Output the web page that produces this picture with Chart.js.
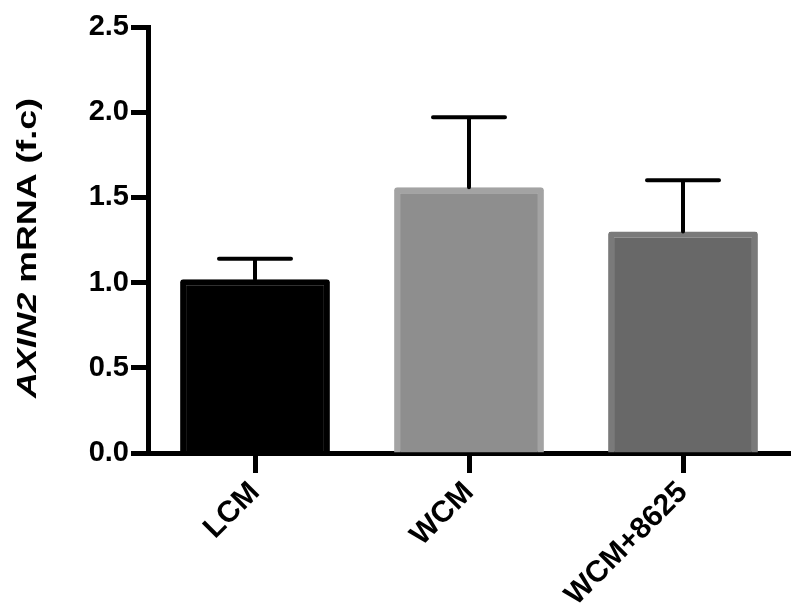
<!DOCTYPE html>
<html>
<head>
<meta charset="utf-8">
<script src="https://cdn.jsdelivr.net/npm/chart.js@4.4.1/dist/chart.umd.min.js"></script>
<style>
  html, body { margin: 0; padding: 0; background: #fff; }
  #wrap { width: 800px; height: 614px; }
</style>
</head>
<body>
<div id="wrap"><canvas id="axinChart" width="800" height="614"></canvas></div>
<script>
// Values (fold change, mean + upper SEM)
const groups = ['LCM', 'WCM', 'WCM+8625'];
const means = [1.02, 1.56, 1.30];
const errors = [0.12, 0.41, 0.30];
const yTicks = [0, 0.5, 1.0, 1.5, 2.0, 2.5];

const fills = ['#000000', '#8e8e8e', '#686868'];
const borders = ['#000000', '#a3a3a3', '#7a7a7a'];

const FONT = '"Liberation Sans", Arial, sans-serif';

// draws the upper error bars on top of each bar
const errorBars = {
    id: 'errorBars',
    afterDatasetsDraw(chart) {
        let ctx = chart.ctx;
        let yScale = chart.scales.y;
        let bars = chart.getDatasetMeta(0).data;
        ctx.save();
        ctx.strokeStyle = '#000';
        ctx.lineWidth = 4;
        ctx.lineCap = 'round';
        bars.forEach((bar, i) => {
            let top = yScale.getPixelForValue(means[i] + errors[i]);
            let base = yScale.getPixelForValue(means[i]);
            ctx.beginPath();
            ctx.moveTo(bar.x, base);
            ctx.lineTo(bar.x, top);
            ctx.moveTo(bar.x - 36, top);
            ctx.lineTo(bar.x + 36, top);
            ctx.stroke();
        });
        ctx.restore();
    }
};

// y title with the gene name in italics (stretched along its length like the figure)
const yTitle = {
    id: 'yTitle',
    afterDraw(chart) {
        let ctx = chart.ctx;
        let gene = 'AXIN2';
        let rest = ' mRNA (f.c)';
        ctx.save();
        ctx.font = 'italic bold 28px ' + FONT;
        let w1 = ctx.measureText(gene).width;
        ctx.font = 'bold 28px ' + FONT;
        let w2 = ctx.measureText(rest).width;
        let stretch = 300 / (w1 + w2);
        ctx.translate(36, 248);
        ctx.rotate(-Math.PI / 2);
        ctx.scale(stretch, 1);
        ctx.fillStyle = '#000';
        ctx.textBaseline = 'alphabetic';
        ctx.textAlign = 'left';
        let start = -(w1 + w2) / 2;
        ctx.font = 'italic bold 28px ' + FONT;
        ctx.fillText(gene, start, 0);
        ctx.font = 'bold 28px ' + FONT;
        ctx.fillText(rest, start + w1, 0);
        ctx.restore();
    }
};

let ctx = document.getElementById('axinChart').getContext('2d');
let chart = new Chart(ctx, {
    type: 'bar',
    data: {
        labels: groups,
        datasets: [{
            data: means,
            backgroundColor: fills,
            borderColor: borders,
            borderWidth: 6,
            borderRadius: 3,
            borderSkipped: 'start',
            barPercentage: 0.7,
            categoryPercentage: 1
        }]
    },
    options: {
        responsive: false,
        animation: false,
        layout: { padding: { top: 27, right: 10, left: 0, bottom: 0 } },
        plugins: {
            legend: { display: false },
            tooltip: { enabled: false }
        },
        scales: {
            x: {
                grid: {
                    offset: false,
                    drawOnChartArea: false,
                    drawTicks: true,
                    tickLength: 20,
                    tickWidth: 5,
                    color: '#000'
                },
                border: { display: true, width: 5, color: '#000' },
                ticks: {
                    color: '#000',
                    font: { family: FONT, size: 30, weight: 'bold' },
                    minRotation: 45,
                    maxRotation: 45,
                    padding: 2
                },
                afterFit: s => { s.height = 161; }
            },
            y: {
                min: 0,
                max: 2.5,
                afterBuildTicks: s => { s.ticks = yTicks.map(v => ({ value: v })); },
                grid: {
                    drawOnChartArea: false,
                    drawTicks: true,
                    tickLength: 17,
                    tickWidth: 5,
                    color: '#000'
                },
                border: { display: true, width: 5, color: '#000' },
                ticks: {
                    color: '#000',
                    font: { family: FONT, size: 29, weight: 'bold' },
                    padding: 2,
                    callback: v => Number(v).toFixed(1)
                },
                afterFit: s => { s.width = 148; }
            }
        }
    },
    plugins: [errorBars, yTitle]
});
</script>
</body>
</html>
